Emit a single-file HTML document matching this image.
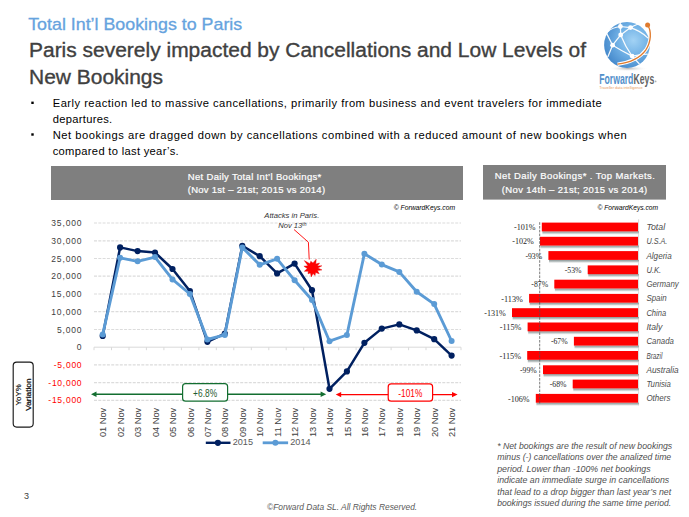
<!DOCTYPE html>
<html><head><meta charset="utf-8"><title>Total Int'l Bookings to Paris</title>
<style>
html,body{margin:0;padding:0;background:#fff;}
body{width:689px;height:517px;overflow:hidden;}
svg{display:block;font-family:"Liberation Sans",Arial,sans-serif;}
</style></head><body>
<svg width="689" height="517" viewBox="0 0 689 517">
<rect x="0" y="0" width="689" height="517" fill="#fff"/>
<text x="28.2" y="29.5" font-size="16.2" fill="#66a3de" textLength="214.0" lengthAdjust="spacingAndGlyphs" stroke="#66a3de" stroke-width="0.3">Total Int’l Bookings to Paris</text>
<text x="29.0" y="57.0" font-size="20" fill="#404040" textLength="557.0" lengthAdjust="spacingAndGlyphs" stroke="#404040" stroke-width="0.35">Paris severely impacted by Cancellations and Low Levels of</text>
<text x="29.0" y="84.2" font-size="20" fill="#404040" textLength="134.0" lengthAdjust="spacingAndGlyphs" stroke="#404040" stroke-width="0.35">New Bookings</text>
<rect x="31.3" y="101.6" width="2.4" height="2.4" fill="#000"/>
<rect x="31.3" y="133.3" width="2.4" height="2.4" fill="#000"/>
<text x="52.7" y="107.3" font-size="11.2" fill="#000" textLength="549.0" lengthAdjust="spacing">Early reaction led to massive cancellations, primarily from business and event travelers for immediate</text>
<text x="52.7" y="123.3" font-size="11.2" fill="#000" textLength="59.5" lengthAdjust="spacing">departures.</text>
<text x="52.7" y="139.0" font-size="11.2" fill="#000" textLength="574.0" lengthAdjust="spacing">Net bookings are dragged down by cancellations combined with a reduced amount of new bookings when</text>
<text x="52.7" y="155.0" font-size="11.2" fill="#000" textLength="126.0" lengthAdjust="spacing">compared to last year’s.</text>
<rect x="51" y="166" width="412" height="34" fill="#7f7f7f"/>
<text x="254.5" y="180.1" font-size="9.5" fill="#fff" text-anchor="middle" textLength="133.5" lengthAdjust="spacing" stroke="#fff" stroke-width="0.2">Net Daily Total Int’l Bookings*</text>
<text x="256.4" y="193.3" font-size="9.5" fill="#fff" text-anchor="middle" textLength="137.4" lengthAdjust="spacing" stroke="#fff" stroke-width="0.2">(Nov 1st – 21st; 2015 vs 2014)</text>
<text x="393.7" y="209.6" font-size="6.6" fill="#000" font-style="italic" textLength="61.4" lengthAdjust="spacingAndGlyphs">© ForwardKeys.com</text>
<line x1="94.0" y1="223.0" x2="461.0" y2="223.0" stroke="#dcdcdc" stroke-width="1.2" stroke-dasharray="3,1.3"/>
<line x1="94.0" y1="240.8" x2="461.0" y2="240.8" stroke="#dcdcdc" stroke-width="1.2" stroke-dasharray="3,1.3"/>
<line x1="94.0" y1="258.5" x2="461.0" y2="258.5" stroke="#dcdcdc" stroke-width="1.2" stroke-dasharray="3,1.3"/>
<line x1="94.0" y1="276.2" x2="461.0" y2="276.2" stroke="#dcdcdc" stroke-width="1.2" stroke-dasharray="3,1.3"/>
<line x1="94.0" y1="294.0" x2="461.0" y2="294.0" stroke="#dcdcdc" stroke-width="1.2" stroke-dasharray="3,1.3"/>
<line x1="94.0" y1="311.7" x2="461.0" y2="311.7" stroke="#dcdcdc" stroke-width="1.2" stroke-dasharray="3,1.3"/>
<line x1="94.0" y1="329.5" x2="461.0" y2="329.5" stroke="#dcdcdc" stroke-width="1.2" stroke-dasharray="3,1.3"/>
<line x1="94.0" y1="347.2" x2="461.0" y2="347.2" stroke="#d9d9d9" stroke-width="1"/>
<line x1="94.0" y1="364.9" x2="461.0" y2="364.9" stroke="#dcdcdc" stroke-width="1.2" stroke-dasharray="3,1.3"/>
<line x1="94.0" y1="382.7" x2="461.0" y2="382.7" stroke="#dcdcdc" stroke-width="1.2" stroke-dasharray="3,1.3"/>
<line x1="94.0" y1="400.4" x2="461.0" y2="400.4" stroke="#dcdcdc" stroke-width="1.2" stroke-dasharray="3,1.3"/>
<line x1="94.0" y1="347.2" x2="94.0" y2="350.2" stroke="#d9d9d9" stroke-width="1"/>
<line x1="111.5" y1="347.2" x2="111.5" y2="350.2" stroke="#d9d9d9" stroke-width="1"/>
<line x1="129.0" y1="347.2" x2="129.0" y2="350.2" stroke="#d9d9d9" stroke-width="1"/>
<line x1="146.4" y1="347.2" x2="146.4" y2="350.2" stroke="#d9d9d9" stroke-width="1"/>
<line x1="163.9" y1="347.2" x2="163.9" y2="350.2" stroke="#d9d9d9" stroke-width="1"/>
<line x1="181.4" y1="347.2" x2="181.4" y2="350.2" stroke="#d9d9d9" stroke-width="1"/>
<line x1="198.9" y1="347.2" x2="198.9" y2="350.2" stroke="#d9d9d9" stroke-width="1"/>
<line x1="216.3" y1="347.2" x2="216.3" y2="350.2" stroke="#d9d9d9" stroke-width="1"/>
<line x1="233.8" y1="347.2" x2="233.8" y2="350.2" stroke="#d9d9d9" stroke-width="1"/>
<line x1="251.3" y1="347.2" x2="251.3" y2="350.2" stroke="#d9d9d9" stroke-width="1"/>
<line x1="268.8" y1="347.2" x2="268.8" y2="350.2" stroke="#d9d9d9" stroke-width="1"/>
<line x1="286.2" y1="347.2" x2="286.2" y2="350.2" stroke="#d9d9d9" stroke-width="1"/>
<line x1="303.7" y1="347.2" x2="303.7" y2="350.2" stroke="#d9d9d9" stroke-width="1"/>
<line x1="321.2" y1="347.2" x2="321.2" y2="350.2" stroke="#d9d9d9" stroke-width="1"/>
<line x1="338.7" y1="347.2" x2="338.7" y2="350.2" stroke="#d9d9d9" stroke-width="1"/>
<line x1="356.1" y1="347.2" x2="356.1" y2="350.2" stroke="#d9d9d9" stroke-width="1"/>
<line x1="373.6" y1="347.2" x2="373.6" y2="350.2" stroke="#d9d9d9" stroke-width="1"/>
<line x1="391.1" y1="347.2" x2="391.1" y2="350.2" stroke="#d9d9d9" stroke-width="1"/>
<line x1="408.6" y1="347.2" x2="408.6" y2="350.2" stroke="#d9d9d9" stroke-width="1"/>
<line x1="426.0" y1="347.2" x2="426.0" y2="350.2" stroke="#d9d9d9" stroke-width="1"/>
<line x1="443.5" y1="347.2" x2="443.5" y2="350.2" stroke="#d9d9d9" stroke-width="1"/>
<line x1="461.0" y1="347.2" x2="461.0" y2="350.2" stroke="#d9d9d9" stroke-width="1"/>
<text x="81.6" y="226.0" font-size="8.5" fill="#404040" text-anchor="end" textLength="30.4" lengthAdjust="spacing">35,000</text>
<text x="81.6" y="243.8" font-size="8.5" fill="#404040" text-anchor="end" textLength="30.4" lengthAdjust="spacing">30,000</text>
<text x="81.6" y="261.5" font-size="8.5" fill="#404040" text-anchor="end" textLength="30.4" lengthAdjust="spacing">25,000</text>
<text x="81.6" y="279.2" font-size="8.5" fill="#404040" text-anchor="end" textLength="30.4" lengthAdjust="spacing">20,000</text>
<text x="81.6" y="297.0" font-size="8.5" fill="#404040" text-anchor="end" textLength="30.4" lengthAdjust="spacing">15,000</text>
<text x="81.6" y="314.7" font-size="8.5" fill="#404040" text-anchor="end" textLength="30.4" lengthAdjust="spacing">10,000</text>
<text x="81.6" y="332.5" font-size="8.5" fill="#404040" text-anchor="end" textLength="24.6" lengthAdjust="spacing">5,000</text>
<text x="81.6" y="350.2" font-size="8.5" fill="#404040" text-anchor="end" textLength="5.1" lengthAdjust="spacing">0</text>
<text x="81.6" y="367.9" font-size="8.5" fill="#ff0000" text-anchor="end" textLength="27.8" lengthAdjust="spacing">-5,000</text>
<text x="81.6" y="385.7" font-size="8.5" fill="#ff0000" text-anchor="end" textLength="33.3" lengthAdjust="spacing">-10,000</text>
<text x="81.6" y="403.4" font-size="8.5" fill="#ff0000" text-anchor="end" textLength="33.3" lengthAdjust="spacing">-15,000</text>
<text transform="translate(106.3,437.1) rotate(-90)" font-size="9.9" fill="#404040" textLength="29.3" lengthAdjust="spacingAndGlyphs">01 Nov</text>
<text transform="translate(123.7,437.1) rotate(-90)" font-size="9.9" fill="#404040" textLength="29.3" lengthAdjust="spacingAndGlyphs">02 Nov</text>
<text transform="translate(141.2,437.1) rotate(-90)" font-size="9.9" fill="#404040" textLength="29.3" lengthAdjust="spacingAndGlyphs">03 Nov</text>
<text transform="translate(158.6,437.1) rotate(-90)" font-size="9.9" fill="#404040" textLength="29.3" lengthAdjust="spacingAndGlyphs">04 Nov</text>
<text transform="translate(176.1,437.1) rotate(-90)" font-size="9.9" fill="#404040" textLength="29.3" lengthAdjust="spacingAndGlyphs">05 Nov</text>
<text transform="translate(193.5,437.1) rotate(-90)" font-size="9.9" fill="#404040" textLength="29.3" lengthAdjust="spacingAndGlyphs">06 Nov</text>
<text transform="translate(211.0,437.1) rotate(-90)" font-size="9.9" fill="#404040" textLength="29.3" lengthAdjust="spacingAndGlyphs">07 Nov</text>
<text transform="translate(228.4,437.1) rotate(-90)" font-size="9.9" fill="#404040" textLength="29.3" lengthAdjust="spacingAndGlyphs">08 Nov</text>
<text transform="translate(245.9,437.1) rotate(-90)" font-size="9.9" fill="#404040" textLength="29.3" lengthAdjust="spacingAndGlyphs">09 Nov</text>
<text transform="translate(263.3,437.1) rotate(-90)" font-size="9.9" fill="#404040" textLength="29.3" lengthAdjust="spacingAndGlyphs">10 Nov</text>
<text transform="translate(280.8,437.1) rotate(-90)" font-size="9.9" fill="#404040" textLength="29.3" lengthAdjust="spacingAndGlyphs">11 Nov</text>
<text transform="translate(298.2,437.1) rotate(-90)" font-size="9.9" fill="#404040" textLength="29.3" lengthAdjust="spacingAndGlyphs">12 Nov</text>
<text transform="translate(315.6,437.1) rotate(-90)" font-size="9.9" fill="#404040" textLength="29.3" lengthAdjust="spacingAndGlyphs">13 Nov</text>
<text transform="translate(333.1,437.1) rotate(-90)" font-size="9.9" fill="#404040" textLength="29.3" lengthAdjust="spacingAndGlyphs">14 Nov</text>
<text transform="translate(350.5,437.1) rotate(-90)" font-size="9.9" fill="#404040" textLength="29.3" lengthAdjust="spacingAndGlyphs">15 Nov</text>
<text transform="translate(368.0,437.1) rotate(-90)" font-size="9.9" fill="#404040" textLength="29.3" lengthAdjust="spacingAndGlyphs">16 Nov</text>
<text transform="translate(385.4,437.1) rotate(-90)" font-size="9.9" fill="#404040" textLength="29.3" lengthAdjust="spacingAndGlyphs">17 Nov</text>
<text transform="translate(402.9,437.1) rotate(-90)" font-size="9.9" fill="#404040" textLength="29.3" lengthAdjust="spacingAndGlyphs">18 Nov</text>
<text transform="translate(420.3,437.1) rotate(-90)" font-size="9.9" fill="#404040" textLength="29.3" lengthAdjust="spacingAndGlyphs">19 Nov</text>
<text transform="translate(437.8,437.1) rotate(-90)" font-size="9.9" fill="#404040" textLength="29.3" lengthAdjust="spacingAndGlyphs">20 Nov</text>
<text transform="translate(455.2,437.1) rotate(-90)" font-size="9.9" fill="#404040" textLength="29.3" lengthAdjust="spacingAndGlyphs">21 Nov</text>
<polyline points="102.7,336.0 120.1,247.4 137.6,251.1 155.0,252.5 172.5,269.0 189.9,291.0 207.4,341.8 224.8,333.7 242.3,245.8 259.7,256.2 277.1,273.4 294.6,263.6 312.0,290.2 329.5,388.8 346.9,371.4 364.4,342.8 381.8,328.6 399.3,324.4 416.7,330.4 434.2,339.2 451.6,355.6" fill="none" stroke="#002060" stroke-width="2.5" stroke-linejoin="round"/>
<circle cx="102.7" cy="336.0" r="3.1" fill="#002060"/>
<circle cx="120.1" cy="247.4" r="3.1" fill="#002060"/>
<circle cx="137.6" cy="251.1" r="3.1" fill="#002060"/>
<circle cx="155.0" cy="252.5" r="3.1" fill="#002060"/>
<circle cx="172.5" cy="269.0" r="3.1" fill="#002060"/>
<circle cx="189.9" cy="291.0" r="3.1" fill="#002060"/>
<circle cx="207.4" cy="341.8" r="3.1" fill="#002060"/>
<circle cx="224.8" cy="333.7" r="3.1" fill="#002060"/>
<circle cx="242.3" cy="245.8" r="3.1" fill="#002060"/>
<circle cx="259.7" cy="256.2" r="3.1" fill="#002060"/>
<circle cx="277.1" cy="273.4" r="3.1" fill="#002060"/>
<circle cx="294.6" cy="263.6" r="3.1" fill="#002060"/>
<circle cx="312.0" cy="290.2" r="3.1" fill="#002060"/>
<circle cx="329.5" cy="388.8" r="3.1" fill="#002060"/>
<circle cx="346.9" cy="371.4" r="3.1" fill="#002060"/>
<circle cx="364.4" cy="342.8" r="3.1" fill="#002060"/>
<circle cx="381.8" cy="328.6" r="3.1" fill="#002060"/>
<circle cx="399.3" cy="324.4" r="3.1" fill="#002060"/>
<circle cx="416.7" cy="330.4" r="3.1" fill="#002060"/>
<circle cx="434.2" cy="339.2" r="3.1" fill="#002060"/>
<circle cx="451.6" cy="355.6" r="3.1" fill="#002060"/>
<polyline points="102.7,334.4 120.1,257.8 137.6,261.3 155.0,257.1 172.5,279.4 189.9,294.0 207.4,339.5 224.8,334.9 242.3,247.4 259.7,264.8 277.1,258.8 294.6,280.3 312.0,300.0 329.5,341.2 346.9,335.0 364.4,253.7 381.8,264.6 399.3,271.9 416.7,291.8 434.2,304.1 451.6,341.0" fill="none" stroke="#5b9bd5" stroke-width="2.9" stroke-linejoin="round"/>
<circle cx="102.7" cy="334.4" r="3.0" fill="#5b9bd5"/>
<circle cx="120.1" cy="257.8" r="3.0" fill="#5b9bd5"/>
<circle cx="137.6" cy="261.3" r="3.0" fill="#5b9bd5"/>
<circle cx="155.0" cy="257.1" r="3.0" fill="#5b9bd5"/>
<circle cx="172.5" cy="279.4" r="3.0" fill="#5b9bd5"/>
<circle cx="189.9" cy="294.0" r="3.0" fill="#5b9bd5"/>
<circle cx="207.4" cy="339.5" r="3.0" fill="#5b9bd5"/>
<circle cx="224.8" cy="334.9" r="3.0" fill="#5b9bd5"/>
<circle cx="242.3" cy="247.4" r="3.0" fill="#5b9bd5"/>
<circle cx="259.7" cy="264.8" r="3.0" fill="#5b9bd5"/>
<circle cx="277.1" cy="258.8" r="3.0" fill="#5b9bd5"/>
<circle cx="294.6" cy="280.3" r="3.0" fill="#5b9bd5"/>
<circle cx="312.0" cy="300.0" r="3.0" fill="#5b9bd5"/>
<circle cx="329.5" cy="341.2" r="3.0" fill="#5b9bd5"/>
<circle cx="346.9" cy="335.0" r="3.0" fill="#5b9bd5"/>
<circle cx="364.4" cy="253.7" r="3.0" fill="#5b9bd5"/>
<circle cx="381.8" cy="264.6" r="3.0" fill="#5b9bd5"/>
<circle cx="399.3" cy="271.9" r="3.0" fill="#5b9bd5"/>
<circle cx="416.7" cy="291.8" r="3.0" fill="#5b9bd5"/>
<circle cx="434.2" cy="304.1" r="3.0" fill="#5b9bd5"/>
<circle cx="451.6" cy="341.0" r="3.0" fill="#5b9bd5"/>
<text x="264.3" y="217.8" font-size="7.6" fill="#333333" font-style="italic" textLength="55.0" lengthAdjust="spacingAndGlyphs">Attacks in Paris.</text>
<text x="278.2" y="227.9" font-size="7.6" fill="#333333" font-style="italic">Nov 13<tspan font-size="5" dy="-1.6">th</tspan></text>
<polyline points="294,229.5 308.4,242.2 309.2,259.5" fill="none" stroke="#ff0000" stroke-width="0.9"/>
<polygon points="304.3,260.6 309.9,263.7 310.8,261.2 312.9,262.9 316.2,259.2 315.8,264.0 319.6,263.0 317.4,265.9 321.9,265.8 317.9,268.0 322.0,269.9 317.4,270.5 319.2,273.8 315.6,272.6 315.0,275.5 313.0,273.5 311.3,276.9 310.4,273.0 308.0,273.8 308.3,271.3 304.3,271.3 307.3,268.5 303.9,266.2 307.9,265.7" fill="#ff0000" stroke="#e00000" stroke-width="0.4" stroke-linejoin="miter"/>
<line x1="94" y1="394.3" x2="321" y2="394.3" stroke="#136e30" stroke-width="1.5"/>
<polygon points="91,394.3 96.5,391.6 96.5,397" fill="#136e30"/>
<polygon points="326.2,394.3 320.6,391.6 320.6,397" fill="#136e30"/>
<rect x="182.6" y="383.6" width="45" height="17.6" rx="3" fill="#fff" stroke="#136e30" stroke-width="1.2"/>
<text x="205.1" y="396.6" font-size="10.2" fill="#1f5c2f" text-anchor="middle" textLength="24.0" lengthAdjust="spacingAndGlyphs">+6.8%</text>
<line x1="340" y1="394.6" x2="453" y2="394.6" stroke="#ff0000" stroke-width="1.3"/>
<polygon points="335.7,394.6 341.2,391.9 341.2,397.3" fill="#ff0000"/>
<polygon points="457.6,394.6 452,391.9 452,397.3" fill="#ff0000"/>
<rect x="388.2" y="383.9" width="44.4" height="17.3" rx="3" fill="#fff" stroke="#ff0000" stroke-width="1.2"/>
<text x="410.3" y="396.9" font-size="10.2" fill="#ff0000" text-anchor="middle" textLength="24.0" lengthAdjust="spacingAndGlyphs">-101%</text>
<line x1="205.8" y1="442.8" x2="230.5" y2="442.8" stroke="#002060" stroke-width="2.4"/>
<circle cx="217.9" cy="442.8" r="3.1" fill="#002060"/>
<text x="232.7" y="445.0" font-size="8.5" fill="#595959" textLength="20.3" lengthAdjust="spacingAndGlyphs">2015</text>
<line x1="262.7" y1="442.8" x2="288.1" y2="442.8" stroke="#5b9bd5" stroke-width="2.8"/>
<circle cx="275.4" cy="442.8" r="3.0" fill="#5b9bd5"/>
<text x="290.3" y="445.0" font-size="8.5" fill="#595959" textLength="20.3" lengthAdjust="spacingAndGlyphs">2014</text>
<rect x="13.2" y="362.1" width="20" height="65" rx="3.5" fill="#fff" stroke="#1a1a1a" stroke-width="1.15"/>
<text transform="translate(21.2,405.4) rotate(-90)" font-size="7.4" fill="#000" stroke="#000" stroke-width="0.15" textLength="21" lengthAdjust="spacingAndGlyphs">YoY%</text>
<text transform="translate(30.9,410.8) rotate(-90)" font-size="7.2" fill="#000" stroke="#000" stroke-width="0.2" textLength="32.5" lengthAdjust="spacingAndGlyphs">Variation</text>
<rect x="483" y="165" width="183" height="34.6" fill="#7f7f7f"/>
<text x="574.8" y="179.0" font-size="9.5" fill="#fff" text-anchor="middle" textLength="160.0" lengthAdjust="spacing" stroke="#fff" stroke-width="0.2">Net Daily Bookings* . Top Markets.</text>
<text x="574.5" y="192.6" font-size="9.5" fill="#fff" text-anchor="middle" textLength="145.4" lengthAdjust="spacing" stroke="#fff" stroke-width="0.2">(Nov 14th – 21st; 2015 vs 2014)</text>
<text x="597.5" y="209.8" font-size="6.6" fill="#000" font-style="italic" textLength="60.5" lengthAdjust="spacingAndGlyphs">© ForwardKeys.com</text>
<defs><linearGradient id="bsh" x1="0" y1="0" x2="0" y2="1"><stop offset="0" stop-color="#899595"/><stop offset="0.5" stop-color="#c4cbcb"/><stop offset="1" stop-color="#ffffff" stop-opacity="0"/></linearGradient></defs>
<line x1="638.6" y1="219.3" x2="638.6" y2="405.5" stroke="#d9d9d9" stroke-width="1"/>
<rect x="542.4" y="231.4" width="96.6" height="3.8" fill="url(#bsh)"/>
<rect x="541.8" y="222.6" width="96.2" height="8.8" fill="#ff0000"/>
<text x="535.6" y="230.2" font-size="9" fill="#262626" text-anchor="end" textLength="21.6" lengthAdjust="spacingAndGlyphs" font-family="Liberation Serif, serif">-101%</text>
<text x="646.4" y="230.1" font-size="8.6" fill="#4d4d4d" font-style="italic" textLength="18.8" lengthAdjust="spacingAndGlyphs">Total</text>
<rect x="540.6" y="245.6" width="98.4" height="3.8" fill="url(#bsh)"/>
<rect x="540.0" y="236.8" width="98.0" height="8.8" fill="#ff0000"/>
<text x="533.8" y="244.4" font-size="9" fill="#262626" text-anchor="end" textLength="21.6" lengthAdjust="spacingAndGlyphs" font-family="Liberation Serif, serif">-102%</text>
<text x="646.4" y="244.3" font-size="8.6" fill="#4d4d4d" font-style="italic" textLength="21.0" lengthAdjust="spacingAndGlyphs">U.S.A.</text>
<rect x="549.0" y="259.9" width="90.0" height="3.8" fill="url(#bsh)"/>
<rect x="548.4" y="251.1" width="89.6" height="8.8" fill="#ff0000"/>
<text x="542.2" y="258.7" font-size="9" fill="#262626" text-anchor="end" textLength="16.8" lengthAdjust="spacingAndGlyphs" font-family="Liberation Serif, serif">-93%</text>
<text x="646.4" y="258.6" font-size="8.6" fill="#4d4d4d" font-style="italic" textLength="25.3" lengthAdjust="spacingAndGlyphs">Algeria</text>
<rect x="588.3" y="274.2" width="50.7" height="3.8" fill="url(#bsh)"/>
<rect x="587.7" y="265.4" width="50.3" height="8.8" fill="#ff0000"/>
<text x="581.5" y="273.0" font-size="9" fill="#262626" text-anchor="end" textLength="16.8" lengthAdjust="spacingAndGlyphs" font-family="Liberation Serif, serif">-53%</text>
<text x="646.4" y="272.9" font-size="8.6" fill="#4d4d4d" font-style="italic" textLength="14.8" lengthAdjust="spacingAndGlyphs">U.K.</text>
<rect x="554.9" y="288.5" width="84.1" height="3.8" fill="url(#bsh)"/>
<rect x="554.3" y="279.7" width="83.7" height="8.8" fill="#ff0000"/>
<text x="548.1" y="287.3" font-size="9" fill="#262626" text-anchor="end" textLength="16.8" lengthAdjust="spacingAndGlyphs" font-family="Liberation Serif, serif">-87%</text>
<text x="646.4" y="287.2" font-size="8.6" fill="#4d4d4d" font-style="italic" textLength="32.3" lengthAdjust="spacingAndGlyphs">Germany</text>
<rect x="529.7" y="302.7" width="109.3" height="3.8" fill="url(#bsh)"/>
<rect x="529.1" y="293.9" width="108.9" height="8.8" fill="#ff0000"/>
<text x="522.9" y="301.5" font-size="9" fill="#262626" text-anchor="end" textLength="21.6" lengthAdjust="spacingAndGlyphs" font-family="Liberation Serif, serif">-113%</text>
<text x="646.4" y="301.4" font-size="8.6" fill="#4d4d4d" font-style="italic" textLength="20.3" lengthAdjust="spacingAndGlyphs">Spain</text>
<rect x="512.6" y="317.0" width="126.4" height="3.8" fill="url(#bsh)"/>
<rect x="512.0" y="308.2" width="126.0" height="8.8" fill="#ff0000"/>
<text x="505.8" y="315.8" font-size="9" fill="#262626" text-anchor="end" textLength="21.6" lengthAdjust="spacingAndGlyphs" font-family="Liberation Serif, serif">-131%</text>
<text x="646.4" y="315.7" font-size="8.6" fill="#4d4d4d" font-style="italic" textLength="19.8" lengthAdjust="spacingAndGlyphs">China</text>
<rect x="528.2" y="331.3" width="110.8" height="3.8" fill="url(#bsh)"/>
<rect x="527.6" y="322.5" width="110.4" height="8.8" fill="#ff0000"/>
<text x="521.4" y="330.1" font-size="9" fill="#262626" text-anchor="end" textLength="21.6" lengthAdjust="spacingAndGlyphs" font-family="Liberation Serif, serif">-115%</text>
<text x="646.4" y="330.0" font-size="8.6" fill="#4d4d4d" font-style="italic" textLength="16.0" lengthAdjust="spacingAndGlyphs">Italy</text>
<rect x="574.5" y="345.6" width="64.5" height="3.8" fill="url(#bsh)"/>
<rect x="573.9" y="336.8" width="64.1" height="8.8" fill="#ff0000"/>
<text x="567.7" y="344.4" font-size="9" fill="#262626" text-anchor="end" textLength="16.8" lengthAdjust="spacingAndGlyphs" font-family="Liberation Serif, serif">-67%</text>
<text x="646.4" y="344.3" font-size="8.6" fill="#4d4d4d" font-style="italic" textLength="27.5" lengthAdjust="spacingAndGlyphs">Canada</text>
<rect x="527.8" y="359.8" width="111.2" height="3.8" fill="url(#bsh)"/>
<rect x="527.2" y="351.0" width="110.8" height="8.8" fill="#ff0000"/>
<text x="521.0" y="358.6" font-size="9" fill="#262626" text-anchor="end" textLength="21.6" lengthAdjust="spacingAndGlyphs" font-family="Liberation Serif, serif">-115%</text>
<text x="646.4" y="358.5" font-size="8.6" fill="#4d4d4d" font-style="italic" textLength="16.0" lengthAdjust="spacingAndGlyphs">Brazil</text>
<rect x="543.6" y="374.1" width="95.4" height="3.8" fill="url(#bsh)"/>
<rect x="543.0" y="365.3" width="95.0" height="8.8" fill="#ff0000"/>
<text x="536.8" y="372.9" font-size="9" fill="#262626" text-anchor="end" textLength="16.8" lengthAdjust="spacingAndGlyphs" font-family="Liberation Serif, serif">-99%</text>
<text x="646.4" y="372.8" font-size="8.6" fill="#4d4d4d" font-style="italic" textLength="32.2" lengthAdjust="spacingAndGlyphs">Australia</text>
<rect x="573.3" y="388.4" width="65.7" height="3.8" fill="url(#bsh)"/>
<rect x="572.7" y="379.6" width="65.3" height="8.8" fill="#ff0000"/>
<text x="566.5" y="387.2" font-size="9" fill="#262626" text-anchor="end" textLength="16.8" lengthAdjust="spacingAndGlyphs" font-family="Liberation Serif, serif">-68%</text>
<text x="646.4" y="387.1" font-size="8.6" fill="#4d4d4d" font-style="italic" textLength="24.5" lengthAdjust="spacingAndGlyphs">Tunisia</text>
<rect x="536.4" y="402.7" width="102.6" height="3.8" fill="url(#bsh)"/>
<rect x="535.8" y="393.9" width="102.2" height="8.8" fill="#ff0000"/>
<text x="529.6" y="401.5" font-size="9" fill="#262626" text-anchor="end" textLength="21.6" lengthAdjust="spacingAndGlyphs" font-family="Liberation Serif, serif">-106%</text>
<text x="646.4" y="401.4" font-size="8.6" fill="#4d4d4d" font-style="italic" textLength="24.0" lengthAdjust="spacingAndGlyphs">Others</text>
<line x1="539.7" y1="222.2" x2="539.7" y2="403.5" stroke="#505050" stroke-width="0.75" stroke-dasharray="2.6,1.2"/>
<text x="497.2" y="448.9" font-size="8.3" fill="#505050" font-style="italic" textLength="175.0" lengthAdjust="spacingAndGlyphs">* Net bookings are the result of new bookings</text>
<text x="497.2" y="460.4" font-size="8.3" fill="#505050" font-style="italic" textLength="174.0" lengthAdjust="spacingAndGlyphs">minus (-) cancellations over the analized time</text>
<text x="497.2" y="471.9" font-size="8.3" fill="#505050" font-style="italic" textLength="153.5" lengthAdjust="spacingAndGlyphs">period.  Lower than -100% net bookings</text>
<text x="497.2" y="483.4" font-size="8.3" fill="#505050" font-style="italic" textLength="172.0" lengthAdjust="spacingAndGlyphs">indicate an immediate surge in cancellations</text>
<text x="497.2" y="494.9" font-size="8.3" fill="#505050" font-style="italic" textLength="174.0" lengthAdjust="spacingAndGlyphs">that lead to a  drop bigger than last year’s net</text>
<text x="497.2" y="506.4" font-size="8.3" fill="#505050" font-style="italic" textLength="174.0" lengthAdjust="spacingAndGlyphs">bookings issued during the same time period.</text>
<text x="23.9" y="498.9" font-size="9" fill="#404040">3</text>
<text x="267.0" y="510.2" font-size="8.6" fill="#595959" font-style="italic" textLength="150.2" lengthAdjust="spacingAndGlyphs">©Forward Data SL. All Rights Reserved.</text>

<defs>
<radialGradient id="gl" cx="0.64" cy="0.40" r="0.72">
<stop offset="0" stop-color="#a2d2f4"/>
<stop offset="0.45" stop-color="#72b2e6"/>
<stop offset="0.85" stop-color="#4d90d0"/>
<stop offset="1" stop-color="#3f84c8"/>
</radialGradient>
<radialGradient id="sh" cx="0.5" cy="0.5" r="0.5">
<stop offset="0" stop-color="#b8b8b8"/>
<stop offset="1" stop-color="#ffffff" stop-opacity="0"/>
</radialGradient>
</defs>
<ellipse cx="628" cy="68.6" rx="20" ry="2.8" fill="url(#sh)"/>
<circle cx="627" cy="45" r="22.9" fill="url(#gl)"/>
<g stroke="#ffffff" stroke-width="1.25" fill="none" stroke-linecap="round" opacity="0.95">
<path d="M620.4,26.5 L630.5,27.6"/>
<path d="M620.4,26.5 L620.7,34.9"/>
<path d="M620.4,26.5 L620.2,22.6"/>
<path d="M630.5,27.6 L620.7,34.9"/>
<path d="M620.7,34.9 L612.6,45.2"/>
<path d="M620.7,34.9 Q625,46 632.1,56.1"/>
<path d="M612.6,45.2 Q622,51 632.1,56.1"/>
<path d="M612.6,45.2 L608,56.6"/>
<path d="M612.6,45.2 L606.6,33.4"/>
<path d="M620.4,26.5 Q612,27.5 607.5,32"/>
<path d="M630.5,27.6 Q641,31 647.8,37.9"/>
<path d="M630.5,27.6 Q637,24 641,23.5"/>
<path d="M632.1,56.1 Q640,54.5 647.3,54.2"/>
<path d="M632.1,56.1 L639.2,63.7"/>
</g>
<g fill="#ffffff">
<circle cx="620.4" cy="26.5" r="2.4"/>
<circle cx="630.5" cy="27.6" r="2.4"/>
<circle cx="620.7" cy="34.9" r="2.4"/>
<circle cx="612.6" cy="45.2" r="2.4"/>
<circle cx="632.1" cy="56.1" r="2.4"/>
</g>
<path d="M647.6,25.1 C651.8,31 651.2,42 645.7,50.1 C640,58 630,62.6 617.5,64.2" fill="none" stroke="#ffffff" stroke-width="3.4"/>
<path d="M647.6,25.1 C651.8,31 651.2,42 645.7,50.1 C640,58 630,62.6 617.5,64.2" fill="none" stroke="#e07b2e" stroke-width="1.35"/>
<circle cx="647.6" cy="25.1" r="2.5" fill="#e07b2e"/>

<text x="599.2" y="84.3" font-size="14.3" fill="#5290cb" font-weight="bold" textLength="34.2" lengthAdjust="spacingAndGlyphs">Forward</text>
<text x="633.6" y="84.3" font-size="14.3" fill="#636363" font-weight="bold" textLength="20.6" lengthAdjust="spacingAndGlyphs">Keys</text>
<circle cx="655.6" cy="81.4" r="0.9" fill="#b0b0b0"/>
<text x="599.3" y="88.9" font-size="3.2" fill="#e89a5c" textLength="43.4" lengthAdjust="spacingAndGlyphs">Traveller data intelligence</text>
</svg>
</body></html>
